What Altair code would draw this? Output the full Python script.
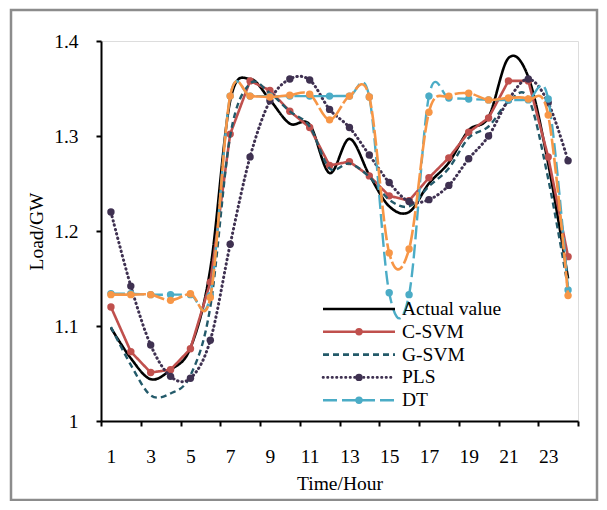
import altair as alt
import pandas as pd

# ---------------- data ----------------
hours = list(range(1, 25))
series_names = ["Actual value", "C-SVM", "G-SVM", "PLS", "DT", "Other"]
actual = [1.098, 1.066, 1.044, 1.054, 1.077, 1.160, 1.337, 1.360, 1.338, 1.313, 1.312, 1.261,
          1.297, 1.259, 1.226, 1.220, 1.250, 1.272, 1.306, 1.320, 1.382, 1.362, 1.271, 1.150]
c_svm = [1.120, 1.073, 1.051, 1.054, 1.076, 1.146, 1.302, 1.358, 1.348, 1.326, 1.309, 1.269,
         1.273, 1.258, 1.237, 1.232, 1.256, 1.277, 1.304, 1.319, 1.358, 1.358, 1.278, 1.173]
g_svm = [1.099, 1.059, 1.027, 1.029, 1.048, 1.120, 1.300, 1.355, 1.345, 1.326, 1.310, 1.266,
         1.271, 1.257, 1.233, 1.226, 1.247, 1.266, 1.298, 1.310, 1.336, 1.340, 1.255, 1.140]
pls = [1.220, 1.142, 1.080, 1.047, 1.045, 1.085, 1.186, 1.278, 1.337, 1.360, 1.359, 1.328,
       1.309, 1.280, 1.251, 1.231, 1.233, 1.248, 1.276, 1.300, 1.338, 1.360, 1.335, 1.274]
dt = [1.134, 1.134, 1.133, 1.133, 1.133, 1.132, 1.342, 1.342, 1.342, 1.342, 1.342, 1.342,
      1.342, 1.341, 1.135, 1.133, 1.342, 1.340, 1.339, 1.338, 1.338, 1.338, 1.339, 1.138]
other = [1.133, 1.133, 1.133, 1.127, 1.134, 1.130, 1.342, 1.342, 1.341, 1.343, 1.344, 1.317,
         1.342, 1.341, 1.177, 1.181, 1.325, 1.342, 1.345, 1.338, 1.340, 1.339, 1.322, 1.132]
legend_names = ["Actual value", "C-SVM", "G-SVM", "PLS", "DT"]
x_label_values = list(range(1, 24, 2))
x_tick_values = [h - 0.5 for h in range(1, 26, 2)]
y_values = [1.0, 1.1, 1.2, 1.3, 1.4]

# ---------------- styles ----------------
FONT = "Liberation Serif"
style = {
    "Actual value": dict(color="#000000", dash=[1, 0], interp="cardinal", dots=False, width=2.6),
    "C-SVM": dict(color="#C0504D", dash=[1, 0], interp="linear", dots=True, width=2.6),
    "G-SVM": dict(color="#235A6A", dash=[6, 4], interp="cardinal", dots=False, width=2.4),
    "PLS": dict(color="#3F3151", dash=[0.5, 4], interp="cardinal", dots=True, width=3),
    "DT": dict(color="#4BACC6", dash=[14, 5], interp="cardinal", dots=True, width=2.4),
    "Other": dict(color="#F79646", dash=[16, 3], interp="cardinal", dots=True, width=2.6),
}

values_by_series = [actual, c_svm, g_svm, pls, dt, other]
df = pd.DataFrame({
    "hour": hours * len(series_names),
    "value": [v for vals in values_by_series for v in vals],
    "series": [n for n in series_names for _ in hours],
})

x_scale = alt.Scale(domain=[0.5, 24.5], nice=False, zero=False)
y_scale = alt.Scale(domain=[1.0, 1.4], nice=False, zero=False)

y_axis = alt.Axis(values=y_values, format="~g", grid=False, tickSize=5, tickWidth=2,
                  tickColor="black", domainColor="black", domainWidth=2, labelPadding=18,
                  labelFont=FONT, labelFontSize=19.5, labelColor="black",
                  title="Load/GW", titleFont=FONT, titleFontSize=19.5, titleFontWeight="normal",
                  titleColor="black", titleAngle=-90, titleX=-59, titleY=190,
                  titleBaseline="alphabetic", titleAlign="center")

x_label_axis = alt.Axis(values=x_label_values, ticks=False, tickSize=0, grid=False,
                        labelPadding=26, labelFlush=False, labelOverlap=False,
                        domainColor="black", domainWidth=2,
                        labelFont=FONT, labelFontSize=19.5, labelColor="black",
                        title="Time/Hour", titleFont=FONT, titleFontSize=19.5,
                        titleFontWeight="normal", titleColor="black",
                        titleY=68, titleBaseline="alphabetic", orient="bottom")
x_tick_axis = alt.Axis(values=x_tick_values, labels=False, ticks=True, tickSize=5,
                       tickWidth=2, tickColor="black", domain=False, grid=False,
                       title=None, orient="bottom")

layers = []

# outer gray frame
frame = alt.Chart(pd.DataFrame({"k": [0]})).mark_rect(
    fillOpacity=0, stroke="#8c8c8c", strokeWidth=2.5
).encode(x=alt.value(-90), x2=alt.value(496), y=alt.value(-31), y2=alt.value(459))
layers.append(frame)

first = True
for name in series_names:
    s = style[name]
    base = alt.Chart(df).transform_filter(alt.datum.series == name)
    xa = x_label_axis if first else None
    line = base.mark_line(
        color=s["color"], strokeWidth=s["width"], strokeDash=s["dash"],
        interpolate=s["interp"], strokeCap="round" if name == "PLS" else "butt",
    ).encode(
        x=alt.X("hour:Q", scale=x_scale, axis=xa),
        y=alt.Y("value:Q", scale=y_scale, axis=y_axis),
    )
    layers.append(line)
    if first:
        ticks_layer = base.mark_line(opacity=0).encode(
            x=alt.X("hour:Q", scale=x_scale, axis=x_tick_axis),
            y=alt.Y("value:Q", scale=y_scale, axis=y_axis),
        )
        layers.append(ticks_layer)
    first = False
    if s["dots"]:
        pts = base.mark_circle(size=55, color=s["color"], opacity=1).encode(
            x=alt.X("hour:Q", scale=x_scale, axis=None),
            y=alt.Y("value:Q", scale=y_scale, axis=y_axis),
        )
        layers.append(pts)

# ---------------- legend (inside plot) ----------------
leg_df = pd.DataFrame({"name": legend_names, "row": list(range(len(legend_names)))})
leg_base = alt.Chart(leg_df).transform_calculate(ly="268 + datum.row * 22.8")
color_scale = alt.Scale(domain=legend_names, range=[style[n]["color"] for n in legend_names])
dash_scale = alt.Scale(domain=legend_names, range=[style[n]["dash"] for n in legend_names])

for cap, names in (("butt", [n for n in legend_names if n != "PLS"]), ("round", ["PLS"])):
    leg_lines = leg_base.transform_filter(
        alt.FieldOneOfPredicate(field="name", oneOf=names)
    ).mark_rule(strokeWidth=2.6, strokeCap=cap).encode(
        x=alt.value(222), x2=alt.value(294),
        y=alt.Y("ly:Q", scale=None, axis=None),
        color=alt.Color("name:N", scale=color_scale, legend=None),
        strokeDash=alt.StrokeDash("name:N", scale=dash_scale, legend=None),
    )
    layers.append(leg_lines)
leg_dots = leg_base.transform_filter(
    alt.FieldOneOfPredicate(field="name", oneOf=[n for n in legend_names if style[n]["dots"]])
).mark_circle(size=55, opacity=1).encode(
    x=alt.value(258),
    y=alt.Y("ly:Q", scale=None, axis=None),
    color=alt.Color("name:N", scale=color_scale, legend=None),
)
leg_text = leg_base.mark_text(align="left", baseline="middle", font=FONT, fontSize=19.5,
                              color="black").encode(
    x=alt.value(301),
    y=alt.Y("ly:Q", scale=None, axis=None),
    text="name:N",
)
layers += [leg_dots, leg_text]

chart = alt.layer(*layers).resolve_axis(x="independent").properties(
    width=477, height=380,
    padding={"left": 93, "top": 33, "right": 21, "bottom": 80},
    autosize=alt.AutoSizeParams(type="none"),
).configure_view(stroke="black", strokeWidth=2).configure(background="white")

chart.save("out.html", embed_options={"renderer": "svg", "actions": False})
